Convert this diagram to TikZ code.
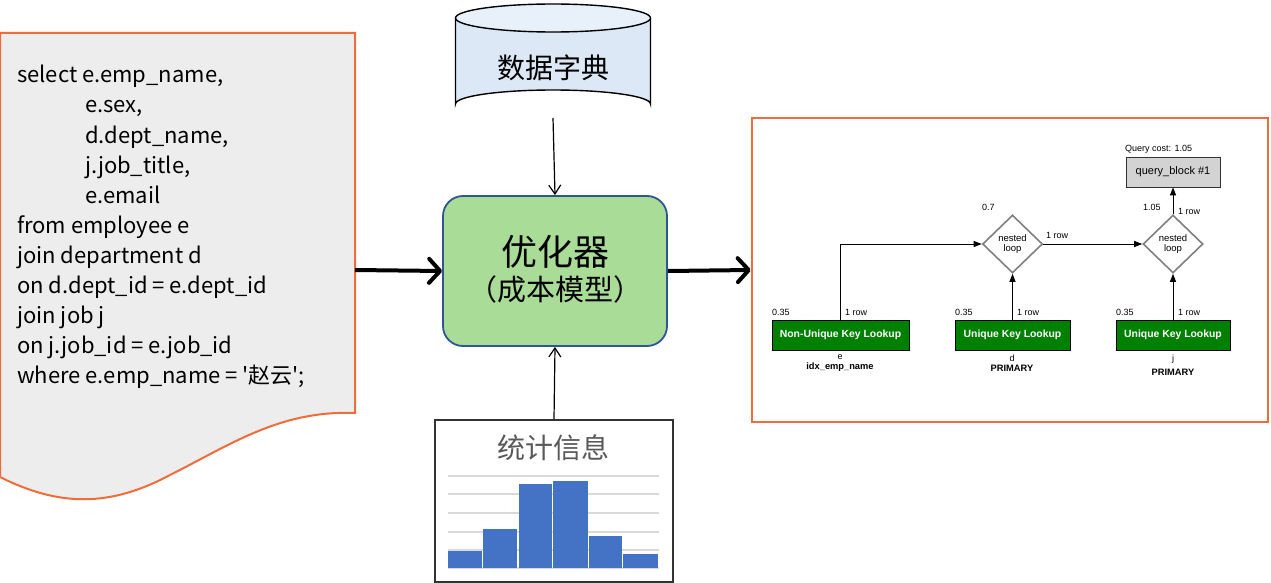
\documentclass[tikz,border=0pt]{standalone}
\usepackage{fontspec}
\setmainfont{Noto Sans CJK SC}
\newfontfamily\sqlfont{Noto Sans CJK SC}
\newfontfamily\arialf{Liberation Sans}
\usetikzlibrary{shapes.geometric,arrows.meta}
\definecolor{docorange}{RGB}{240,108,58}
\definecolor{docfill}{RGB}{237,237,237}
\definecolor{optfill}{RGB}{169,220,150}
\definecolor{optborder}{RGB}{47,85,151}
\definecolor{cylbody}{RGB}{220,232,245}
\definecolor{cyltop}{RGB}{232,240,249}
\definecolor{barblue}{RGB}{68,114,196}
\definecolor{gridgray}{RGB}{217,217,217}
\definecolor{titlegray}{RGB}{89,89,89}
\definecolor{lookgreen}{RGB}{0,128,0}
\definecolor{qbgray}{RGB}{211,211,211}
\definecolor{diagray}{RGB}{128,128,128}
\begin{document}
\begin{tikzpicture}[x=1pt,y=-1pt,
  sqlline/.style={anchor=base west,inner sep=0,font=\sqlfont\fontsize{22}{26}\selectfont},
  bigarrow/.style={line width=4,-{Straight Barb[length=11,width=24,line cap=round,line join=round]}},
  thinarrow/.style={line width=1.2,-{Straight Barb[length=9,width=12]}},
  smallarrow/.style={line width=1,-{Triangle[length=8,width=6]}},
  lookup/.style={draw=black,line width=0.8,fill=lookgreen,text=white,minimum height=30,inner sep=0,font=\arialf\bfseries\fontsize{10.4}{12}\selectfont},
  nl/.style={diamond,draw=diagray,line width=1.6,fill=white,minimum width=60,minimum height=58,inner sep=0,align=center,font=\arialf\fontsize{9.5}{9.5}\selectfont},
  lbl/.style={inner sep=0,font=\arialf\fontsize{9}{10}\selectfont},
  blbl/.style={inner sep=0,font=\arialf\bfseries\fontsize{9.3}{10}\selectfont}]
\useasboundingbox (0,0) rectangle (1271,583);

% document shape
\draw[docorange,line width=2,fill=docfill] (0,33) -- (355,33) -- (355,413)
  .. controls (280,410) and (230,445) .. (170,475)
  .. controls (110,507) and (60,507) .. (0,477) -- cycle;
\coordinate (docr) at (355,270);
\node[sqlline] (l1) at (17,83) {select e.emp\_name,};
\node[sqlline] (l2) at (85,113) {e.sex,};
\node[sqlline] (l3) at (85,143) {d.dept\_name,};
\node[sqlline] (l4) at (85,173) {j.job\_title,};
\node[sqlline] (l5) at (85,203) {e.email};
\node[sqlline] (l6) at (17,233) {from employee e};
\node[sqlline] (l7) at (17,263) {join department d};
\node[sqlline] (l8) at (17,293) {on d.dept\_id = e.dept\_id};
\node[sqlline] (l9) at (17,323) {join job j};
\node[sqlline] (l10) at (17,353) {on j.job\_id = e.job\_id};
\node[sqlline] (l11) at (17,383) {where e.emp\_name = '赵云';};

% cylinder
\draw[line width=1.4,fill=cylbody] (455.5,18) -- (455.5,104) arc[start angle=180,end angle=360,x radius=97.5,y radius=14] -- (650.5,18);
\draw[line width=1.4,fill=cyltop] (553,18) ellipse[x radius=97.5,y radius=14];
\node[inner sep=0,font=\fontsize{28}{30}\selectfont] (dict) at (553,68) {数据字典};
\coordinate (cylb) at (553,118);

% optimizer
\node[draw=optborder,line width=1.8,fill=optfill,rounded corners=20,minimum width=224,minimum height=150,inner sep=0] (opt) at (555,271) {};
\node[inner sep=0,font=\fontsize{36}{38}\selectfont] (optt) at (555,252) {优化器};
\node[inner sep=0,font=\fontsize{29}{31}\selectfont] (opts) at (555,289) {（成本模型）};

% stats box
\node[draw=black!80,line width=1.8,fill=white,minimum width=238,minimum height=162,inner sep=0] (stats) at (554,501) {};
\node[inner sep=0,font=\fontsize{28}{30}\selectfont,text=titlegray] (statt) at (553,448) {统计信息};
\foreach \y in {476,494,513,532,550,568} \draw[gridgray,line width=1.5] (448,\y) -- (659,\y);
\fill[barblue] (448,551) rectangle (482,568);
\fill[barblue] (483,529) rectangle (517,568);
\fill[barblue] (519,484) rectangle (552,568);
\fill[barblue] (553,481) rectangle (588,568);
\fill[barblue] (589,536) rectangle (622,568);
\fill[barblue] (623,554) rectangle (658,568);

% right panel
\node[draw=docorange,line width=2.5,fill=white,minimum width=516,minimum height=304,inner sep=0] (panel) at (1010,270) {};

% connectors main
\draw[bigarrow] (docr) -- (opt.west);
\draw[bigarrow] (opt.east) -- (panel.west);
\draw[thinarrow] (cylb) -- (opt.north);
\draw[thinarrow] (stats.north) -- (opt.south);

% explain plan
\node[draw=black!80,line width=0.8,fill=qbgray,minimum width=94,minimum height=30,inner sep=0,font=\arialf\fontsize{11}{12}\selectfont] (qb) at (1173,172) {query\_block \#1};
\node[lbl,anchor=west] (qc) at (1125,149) {Query cost: 1.05};
\node[nl] (nl1) at (1012.5,244) {nested\\loop};
\node[nl] (nl2) at (1173,244) {nested\\loop};
\node[lookup,minimum width=137] (lk1) at (840.5,335) {Non-Unique Key Lookup};
\node[lookup,minimum width=115] (lk2) at (1012.5,335) {Unique Key Lookup};
\node[lookup,minimum width=114] (lk3) at (1173,335) {Unique Key Lookup};

\draw[smallarrow] (lk1.north) |- (nl1.west);
\draw[smallarrow] (lk2.north) -- (nl1.south);
\draw[smallarrow] (lk3.north) -- (nl2.south);
\draw[smallarrow] (nl1.east) -- (nl2.west);
\draw[smallarrow] (nl2.north) -- (qb.south);

\node[lbl,anchor=west] (c1) at (772,312) {0.35};
\node[lbl,anchor=west] (r1) at (845,312) {1 row};
\node[lbl,anchor=west] (c2) at (955,312) {0.35};
\node[lbl,anchor=west] (r2) at (1017,312) {1 row};
\node[lbl,anchor=west] (c3) at (1116,312) {0.35};
\node[lbl,anchor=west] (r3) at (1178,312) {1 row};
\node[lbl,anchor=west] (c4) at (982,207) {0.7};
\node[lbl,anchor=west] (r4) at (1046,235) {1 row};
\node[lbl,anchor=west] (c5) at (1143,207) {1.05};
\node[lbl,anchor=west] (r5) at (1178,211) {1 row};
\node[lbl] (t1) at (840,357) {e};
\node[blbl] (i1) at (840,367) {idx\_emp\_name};
\node[lbl] (t2) at (1012,358) {d};
\node[blbl] (i2) at (1012,368) {PRIMARY};
\node[lbl] (t3) at (1173,359) {j};
\node[blbl] (i3) at (1173,372) {PRIMARY};
\end{tikzpicture}
\end{document}
